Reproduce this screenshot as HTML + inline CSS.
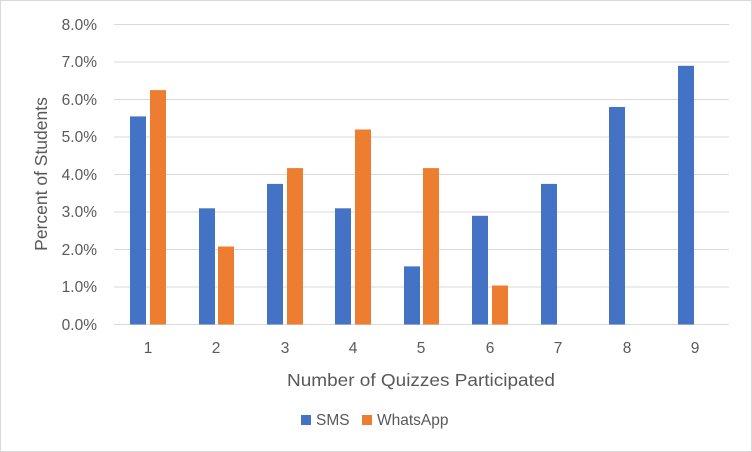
<!DOCTYPE html>
<html><head><style>body{margin:0;background:#fff}svg{display:block}text{font-family:"Liberation Sans",sans-serif;fill:#595959}</style></head><body>
<svg width="752" height="452" xmlns="http://www.w3.org/2000/svg">
<rect x="0.5" y="0.5" width="751" height="451" fill="#fff" stroke="#d9d9d9"/>
<g stroke="#d9d9d9" stroke-width="1">
<line x1="114" x2="729" y1="24.5" y2="24.5"/><line x1="114" x2="729" y1="62" y2="62"/><line x1="114" x2="729" y1="99.5" y2="99.5"/><line x1="114" x2="729" y1="137" y2="137"/><line x1="114" x2="729" y1="174.5" y2="174.5"/><line x1="114" x2="729" y1="212" y2="212"/><line x1="114" x2="729" y1="249.5" y2="249.5"/><line x1="114" x2="729" y1="287" y2="287"/><line x1="114" x2="729" y1="324.5" y2="324.5"/>
</g>
<g font-size="15.5" text-anchor="end">
<text x="97" y="30">8.0%</text><text x="97" y="67">7.0%</text><text x="97" y="105">6.0%</text><text x="97" y="142">5.0%</text><text x="97" y="180">4.0%</text><text x="97" y="217">3.0%</text><text x="97" y="255">2.0%</text><text x="97" y="292">1.0%</text><text x="97" y="330">0.0%</text>
</g>
<g fill="#4472c4">
<rect x="130" y="116.4" width="16" height="208.1"/>
<rect x="199" y="208.3" width="16" height="116.2"/>
<rect x="267" y="183.9" width="16" height="140.6"/>
<rect x="335" y="208.3" width="16" height="116.2"/>
<rect x="404" y="266.4" width="16" height="58.1"/>
<rect x="472" y="215.8" width="16" height="108.7"/>
<rect x="541" y="183.9" width="16" height="140.6"/>
<rect x="609" y="107" width="16" height="217.5"/>
<rect x="678" y="65.8" width="16" height="258.7"/>
</g>
<g fill="#ed7d31">
<rect x="150" y="90.1" width="16" height="234.4"/>
<rect x="218" y="246.5" width="16" height="78"/>
<rect x="287" y="168.1" width="16" height="156.4"/>
<rect x="355" y="129.5" width="16" height="195"/>
<rect x="423" y="168.1" width="16" height="156.4"/>
<rect x="492" y="285.5" width="16" height="39"/>
</g>
<g font-size="15.5" text-anchor="middle">
<text x="148" y="353">1</text><text x="216" y="353">2</text><text x="285" y="353">3</text><text x="353" y="353">4</text><text x="421" y="353">5</text><text x="490" y="353">6</text><text x="558" y="353">7</text><text x="627" y="353">8</text><text x="695" y="353">9</text>
</g>
<text x="421" y="386" font-size="17.5" text-anchor="middle" textLength="268" lengthAdjust="spacingAndGlyphs">Number of Quizzes Participated</text>
<text transform="translate(47 174) rotate(-90)" font-size="17.5" text-anchor="middle">Percent of Students</text>
<rect x="301" y="415" width="10" height="10" fill="#4472c4"/>
<text x="316" y="425" font-size="15.5">SMS</text>
<rect x="362" y="415" width="10" height="10" fill="#ed7d31"/>
<text x="377" y="425" font-size="15.5">WhatsApp</text>
</svg>
</body></html>
